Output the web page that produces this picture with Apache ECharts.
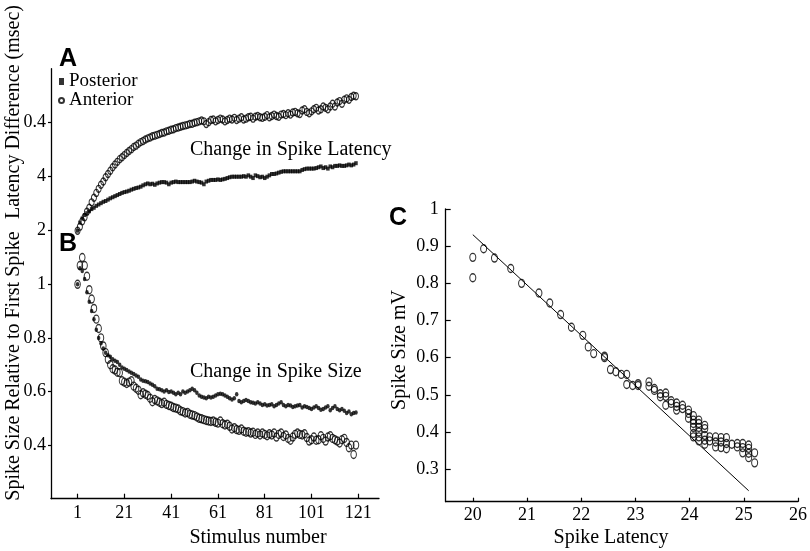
<!DOCTYPE html>
<html>
<head>
<meta charset="utf-8">
<script src="https://cdn.jsdelivr.net/npm/echarts@6/dist/echarts.min.js"></script>
<style>
html,body{margin:0;padding:0;background:#fff;}
#chart{width:810px;height:551px;}
</style>
</head>
<body>
<div id="chart"></div>
<script>
// ---- Data ----
var stimulusCount = 120;
var stimulusTicks = [1, 21, 41, 61, 81, 101, 121];

var latencyTickValues = [2, 4, 6];
var latencyTickLabels = ['2', '4', '0.4'];
var sizeTickValues = [0.4, 0.6, 0.8, 1];
var sizeTickLabels = ['0.4', '0.6', '0.8', '1'];

var posteriorLatency = [2.0,2.3,2.45,2.58,2.65,2.72,2.8,2.85,2.92,2.97,3.02,3.07,3.1,3.15,3.2,3.24,3.28,3.32,3.36,3.4,
3.43,3.45,3.48,3.52,3.55,3.58,3.6,3.63,3.68,3.72,3.75,3.72,3.74,3.7,3.75,3.78,3.8,3.8,3.78,3.72,
3.78,3.8,3.82,3.8,3.8,3.8,3.8,3.8,3.8,3.82,3.85,3.82,3.8,3.78,3.72,3.82,3.85,3.88,3.88,3.88,
3.9,3.88,3.9,3.92,3.95,3.98,4.0,4.0,4.0,4.0,4.0,4.02,4.0,4.05,4.0,3.95,4.05,4.02,3.98,4.0,
3.95,4.0,4.05,4.1,4.1,4.12,4.15,4.18,4.2,4.2,4.2,4.2,4.2,4.2,4.2,4.2,4.25,4.28,4.3,4.3,
4.3,4.3,4.32,4.35,4.38,4.32,4.35,4.3,4.38,4.35,4.4,4.4,4.42,4.4,4.4,4.42,4.45,4.42,4.45,4.5];

var anteriorLatency = [2.0,2.15,2.35,2.5,2.7,2.85,3.05,3.22,3.4,3.55,3.7,3.82,3.98,4.1,4.22,4.35,4.45,4.55,4.65,4.72,
4.8,4.88,4.95,5.02,5.1,5.15,5.22,5.28,5.32,5.38,5.42,5.45,5.5,5.52,5.55,5.58,5.62,5.64,5.68,5.7,
5.74,5.76,5.8,5.82,5.85,5.88,5.9,5.92,5.95,5.96,6.0,6.02,6.05,6.08,6.05,5.95,6.02,6.1,6.12,6.05,
6.1,6.15,6.12,6.05,6.1,6.15,6.12,6.18,6.1,6.15,6.2,6.12,6.15,6.2,6.22,6.15,6.22,6.25,6.2,6.18,
6.22,6.28,6.2,6.25,6.3,6.25,6.22,6.3,6.32,6.28,6.35,6.3,6.38,6.4,6.35,6.32,6.45,6.5,6.4,6.35,
6.42,6.5,6.55,6.45,6.5,6.6,6.55,6.5,6.6,6.7,6.6,6.75,6.8,6.7,6.85,6.9,6.85,6.95,7.0,6.98];

var posteriorSize = [1.0,1.06,1.05,1.02,0.97,0.935,0.9,0.87,0.83,0.8,0.78,0.76,0.745,0.735,0.73,0.72,0.715,0.71,0.7,0.69,
0.685,0.68,0.675,0.67,0.665,0.66,0.655,0.645,0.64,0.638,0.635,0.63,0.625,0.62,0.61,0.608,0.605,0.6,0.605,0.598,
0.6,0.595,0.59,0.595,0.59,0.6,0.595,0.6,0.605,0.61,0.605,0.595,0.585,0.58,0.578,0.575,0.58,0.578,0.58,0.585,
0.59,0.592,0.59,0.585,0.58,0.575,0.57,0.575,0.59,0.565,0.56,0.565,0.568,0.565,0.56,0.558,0.555,0.56,0.555,0.55,
0.552,0.548,0.55,0.552,0.545,0.55,0.555,0.56,0.55,0.545,0.55,0.548,0.542,0.545,0.548,0.55,0.54,0.545,0.542,0.538,
0.535,0.54,0.545,0.538,0.532,0.535,0.54,0.545,0.53,0.538,0.545,0.535,0.53,0.535,0.528,0.52,0.525,0.515,0.52,0.522];

var anteriorSize = [1.0,1.07,1.1,1.07,1.03,0.98,0.945,0.91,0.87,0.835,0.8,0.77,0.745,0.72,0.7,0.685,0.68,0.672,0.67,0.64,
0.635,0.63,0.635,0.64,0.62,0.612,0.605,0.588,0.595,0.59,0.585,0.575,0.562,0.57,0.565,0.56,0.555,0.56,0.552,0.548,
0.545,0.54,0.538,0.535,0.528,0.525,0.52,0.522,0.515,0.512,0.51,0.505,0.5,0.498,0.495,0.492,0.49,0.488,0.49,0.485,
0.482,0.49,0.48,0.475,0.478,0.47,0.46,0.465,0.458,0.455,0.46,0.452,0.448,0.45,0.445,0.448,0.44,0.445,0.438,0.445,
0.44,0.435,0.442,0.438,0.445,0.43,0.44,0.445,0.432,0.438,0.425,0.418,0.43,0.44,0.445,0.44,0.438,0.442,0.428,0.415,
0.42,0.43,0.418,0.42,0.435,0.425,0.415,0.43,0.435,0.425,0.42,0.415,0.408,0.42,0.425,0.41,0.39,0.4,0.365,0.4];

var cLatencyTicks = [20, 21, 22, 23, 24, 25, 26];
var cSizeTickValues = [0.3, 0.4, 0.5, 0.6, 0.7, 0.8, 0.9, 1];
var cSizeTickLabels = ['0.3', '0.4', '0.5', '0.6', '0.7', '0.8', '0.9', '1'];

var cLatency = [20.0,20.0,20.2,20.4,20.7,20.9,21.22,21.42,21.62,21.82,22.03,22.13,22.23,22.43,22.43,22.54,22.64,22.74,22.84,22.84,
22.95,23.05,23.05,23.25,23.25,23.35,23.35,23.46,23.46,23.56,23.56,23.56,23.66,23.66,23.76,23.76,23.76,23.87,23.87,23.98,
23.98,23.98,24.07,24.07,24.07,24.07,24.07,24.07,24.17,24.17,24.17,24.17,24.17,24.17,24.28,24.28,24.28,24.28,24.28,24.37,
24.37,24.48,24.48,24.48,24.58,24.58,24.58,24.68,24.68,24.68,24.78,24.88,24.88,24.98,24.98,24.98,25.09,25.09,25.09,25.09,
25.2,25.2];
var cSize = [0.87,0.815,0.893,0.868,0.84,0.8,0.774,0.747,0.716,0.682,0.66,0.629,0.611,0.604,0.6,0.568,0.562,0.555,0.555,0.528,
0.525,0.525,0.53,0.535,0.523,0.517,0.512,0.503,0.495,0.505,0.496,0.472,0.484,0.477,0.478,0.469,0.459,0.472,0.463,0.459,
0.45,0.437,0.444,0.432,0.423,0.412,0.396,0.387,0.432,0.423,0.412,0.4,0.387,0.376,0.418,0.409,0.391,0.378,0.367,0.387,
0.376,0.387,0.373,0.36,0.385,0.373,0.358,0.385,0.369,0.355,0.367,0.369,0.36,0.369,0.358,0.344,0.365,0.356,0.343,0.331,
0.344,0.317];

var fitLatency = [20.0, 25.09];
var fitSize = [0.931, 0.242];

// ---- Build ----
function pairs(xs, ys) { return ys.map(function (v, i) { return [xs[i], v]; }); }
var stim = [];
for (var i = 1; i <= stimulusCount; i++) stim.push(i);

var SERIF = '"Liberation Serif", "Times New Roman", serif';
var SANS = '"Liberation Sans", Arial, sans-serif';
var BLACK = '#000';

function labelFrom(values, labels) {
  return function (v) {
    for (var k = 0; k < values.length; k++) if (Math.abs(values[k] - v) < 1e-9) return labels[k];
    return '';
  };
}

var chart = echarts.init(document.getElementById('chart'));
var axisLine = { show: true, onZero: false, lineStyle: { color: BLACK, width: 1.3 } };

var openStyle = { color: 'rgba(255,255,255,0)', borderColor: BLACK, borderWidth: 1.2 };

var option = {
  backgroundColor: '#fff',
  animation: false,
  grid: [
    { left: 51, top: 68.7, width: 328, height: 162 },
    { left: 51, top: 230.7, width: 328, height: 268 },
    { left: 445.7, top: 209, width: 356, height: 292.7 }
  ],
  legend: {
    left: 58, top: 72, orient: 'vertical', itemWidth: 5, itemHeight: 7, itemGap: 0,
    padding: 0, selectedMode: false,
    textStyle: { fontFamily: SERIF, fontSize: 19, color: BLACK, lineHeight: 16, padding: [0, 0, 0, 0] },
    data: [{ name: 'Posterior', icon: 'rect' }, { name: 'Anterior', icon: 'circle' }]
  },
  xAxis: [
    { gridIndex: 0, type: 'value', min: -10.36, max: 129.84, show: false },
    { gridIndex: 1, type: 'value', min: -10.36, max: 129.84,
      axisLine: axisLine, splitLine: { show: false },
      axisTick: { show: true, inside: true, length: 5, lineStyle: { color: BLACK, width: 1.2 }, customValues: stimulusTicks },
      axisLabel: { customValues: stimulusTicks, fontFamily: SERIF, fontSize: 18, color: BLACK, margin: 6 } },
    { gridIndex: 2, type: 'value', min: 19.5, max: 26,
      axisLine: axisLine, splitLine: { show: false },
      axisTick: { show: true, inside: true, length: 4, lineStyle: { color: BLACK, width: 1.2 }, customValues: cLatencyTicks },
      axisLabel: { customValues: cLatencyTicks, fontFamily: SERIF, fontSize: 18, color: BLACK, margin: 5 } }
  ],
  yAxis: [
    { gridIndex: 0, type: 'value', min: 2, max: 8,
      axisLine: axisLine, splitLine: { show: false },
      axisTick: { show: true, inside: false, length: 3, lineStyle: { color: BLACK, width: 1.2 }, customValues: latencyTickValues },
      axisLabel: { customValues: latencyTickValues, formatter: labelFrom(latencyTickValues, latencyTickLabels),
        fontFamily: SERIF, fontSize: 18, color: BLACK, margin: 5 } },
    { gridIndex: 1, type: 'value', min: 0.2, max: 1.2,
      axisLine: axisLine, splitLine: { show: false },
      axisTick: { show: true, inside: false, length: 3, lineStyle: { color: BLACK, width: 1.2 }, customValues: sizeTickValues },
      axisLabel: { customValues: sizeTickValues, formatter: labelFrom(sizeTickValues, sizeTickLabels),
        fontFamily: SERIF, fontSize: 18, color: BLACK, margin: 5 } },
    { gridIndex: 2, type: 'value', min: 0.2125, max: 1,
      axisLine: axisLine, splitLine: { show: false },
      axisTick: { show: true, inside: true, length: 5, lineStyle: { color: BLACK, width: 1.2 }, customValues: cSizeTickValues },
      axisLabel: { customValues: cSizeTickValues, formatter: labelFrom(cSizeTickValues, cSizeTickLabels),
        fontFamily: SERIF, fontSize: 18, color: BLACK, margin: 7 } }
  ],
  series: [
    { name: 'Anterior', type: 'scatter', xAxisIndex: 0, yAxisIndex: 0, symbol: 'circle', symbolSize: [5, 7],
      itemStyle: openStyle, data: pairs(stim, anteriorLatency) },
    { name: 'Posterior', type: 'scatter', xAxisIndex: 0, yAxisIndex: 0, symbol: 'rect', symbolSize: [3.5, 4],
      itemStyle: { color: BLACK }, data: pairs(stim, posteriorLatency) },
    { name: 'Anterior', type: 'scatter', xAxisIndex: 1, yAxisIndex: 1, symbol: 'circle', symbolSize: [5.5, 8],
      itemStyle: openStyle, data: pairs(stim, anteriorSize) },
    { name: 'Posterior', type: 'scatter', xAxisIndex: 1, yAxisIndex: 1, symbol: 'circle', symbolSize: [3.5, 4.5],
      itemStyle: { color: BLACK }, data: pairs(stim, posteriorSize) },
    { name: 'C points', type: 'scatter', xAxisIndex: 2, yAxisIndex: 2, symbol: 'circle', symbolSize: [6, 8],
      itemStyle: openStyle, data: pairs(cLatency, cSize) },
    { name: 'C fit', type: 'line', xAxisIndex: 2, yAxisIndex: 2, symbol: 'none',
      lineStyle: { color: BLACK, width: 1 }, data: pairs(fitLatency, fitSize) }
  ],
  graphic: [
    { type: 'text', x: 68, y: 59, style: { text: 'A', font: 'bold 25px ' + SANS, fill: BLACK, align: 'center', verticalAlign: 'middle' } },
    { type: 'text', x: 68, y: 244, style: { text: 'B', font: 'bold 25px ' + SANS, fill: BLACK, align: 'center', verticalAlign: 'middle' } },
    { type: 'text', x: 398, y: 218, style: { text: 'C', font: 'bold 25px ' + SANS, fill: BLACK, align: 'center', verticalAlign: 'middle' } },
    { type: 'text', x: 190, y: 150, style: { text: 'Change in Spike Latency', font: '20px ' + SERIF, fill: BLACK, align: 'left', verticalAlign: 'middle' } },
    { type: 'text', x: 190, y: 372, style: { text: 'Change in Spike Size', font: '20px ' + SERIF, fill: BLACK, align: 'left', verticalAlign: 'middle' } },
    { type: 'text', x: 258, y: 538, style: { text: 'Stimulus number', font: '20px ' + SERIF, fill: BLACK, align: 'center', verticalAlign: 'middle' } },
    { type: 'text', x: 611, y: 538, style: { text: 'Spike Latency', font: '20px ' + SERIF, fill: BLACK, align: 'center', verticalAlign: 'middle' } },
    { type: 'text', x: 14, y: 112, rotation: Math.PI / 2, style: { text: 'Latency Difference (msec)', font: '20px ' + SERIF, fill: BLACK, align: 'center', verticalAlign: 'middle' } },
    { type: 'text', x: 14, y: 366, rotation: Math.PI / 2, style: { text: 'Spike Size Relative to First Spike', font: '20px ' + SERIF, fill: BLACK, align: 'center', verticalAlign: 'middle' } },
    { type: 'text', x: 400, y: 350, rotation: Math.PI / 2, style: { text: 'Spike Size mV', font: '20px ' + SERIF, fill: BLACK, align: 'center', verticalAlign: 'middle' } }
  ]
};
chart.setOption(option);
</script>
</body>
</html>
